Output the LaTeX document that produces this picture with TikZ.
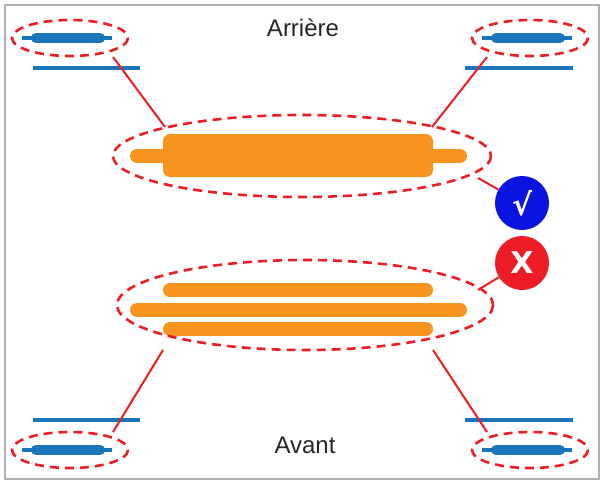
\documentclass[tikz,border=0pt]{standalone}
\usepackage{fontspec}
\setmainfont{Liberation Sans}
\newfontfamily\djv{DejaVu Sans}
\definecolor{bl}{HTML}{1B75BB}
\definecolor{org}{HTML}{F7941D}
\definecolor{rd}{HTML}{EE1C24}
\definecolor{cb}{HTML}{0A14E0}
\begin{document}
\begin{tikzpicture}[x=1pt,y=-1pt,
  ell/.style={draw=rd,line width=2.6pt,dash pattern=on 9pt off 6pt},
  lnk/.style={draw=rd,line width=2pt},
  thin/.style={draw=bl,line width=3.2pt},
  thick/.style={draw=bl,line width=10pt,line cap=round},
  ob/.style={draw=org,line width=14pt,line cap=round},
  lbl/.style={font=\fontsize{24}{24}\selectfont,text=black!85},
  badge/.style={circle,minimum size=54pt,inner sep=0pt,text=white,font=\djv\bfseries\fontsize{30}{30}\selectfont}]
\useasboundingbox (0,0) rectangle (604,484);
\draw[gray!60,line width=1.5pt] (5,5) rectangle (599,479);
% small wheels
\foreach \cx/\cy in {70/38,530/38,70/450,530/450}{
  \draw[thin] (\cx-48,\cy) -- (\cx+42,\cy);
  \draw[thick] (\cx-34,\cy) -- (\cx+30,\cy);
  \draw[ell] (\cx,\cy) ellipse (58 and 18);
}
\draw[thin] (33,68) -- (140,68);
\draw[thin] (465,68) -- (573,68);
\draw[thin] (33,420) -- (140,420);
\draw[thin] (465,420) -- (573,420);
\node[lbl] (ar) at (303,28) {Arrière};
\node[lbl] (av) at (305,445) {Avant};
% top axle
\draw[ob] (137,156) -- (460,156);
\fill[org,rounded corners=7pt] (163,134) rectangle (433,177);
\draw[ell] (302,156) ellipse (189 and 41);
% bottom axle
\draw[ob] (170,290) -- (426,290);
\draw[ob] (137,310) -- (460,310);
\draw[ob] (170,329) -- (426,329);
\draw[ell] (305,305) ellipse (188 and 45);
% links
\draw[lnk] (113,57) -- (165,127);
\draw[lnk] (487,57) -- (432,127);
\draw[lnk] (113,432) -- (163,350);
\draw[lnk] (487,432) -- (433,350);
\node[badge,fill=cb] (ok) at (522,203) {√};
\node[badge,fill=rd] (no) at (522,263) {X};
\draw[lnk] (ok) -- (478,178);
\draw[lnk] (no) -- (478,290);
\end{tikzpicture}
\end{document}
